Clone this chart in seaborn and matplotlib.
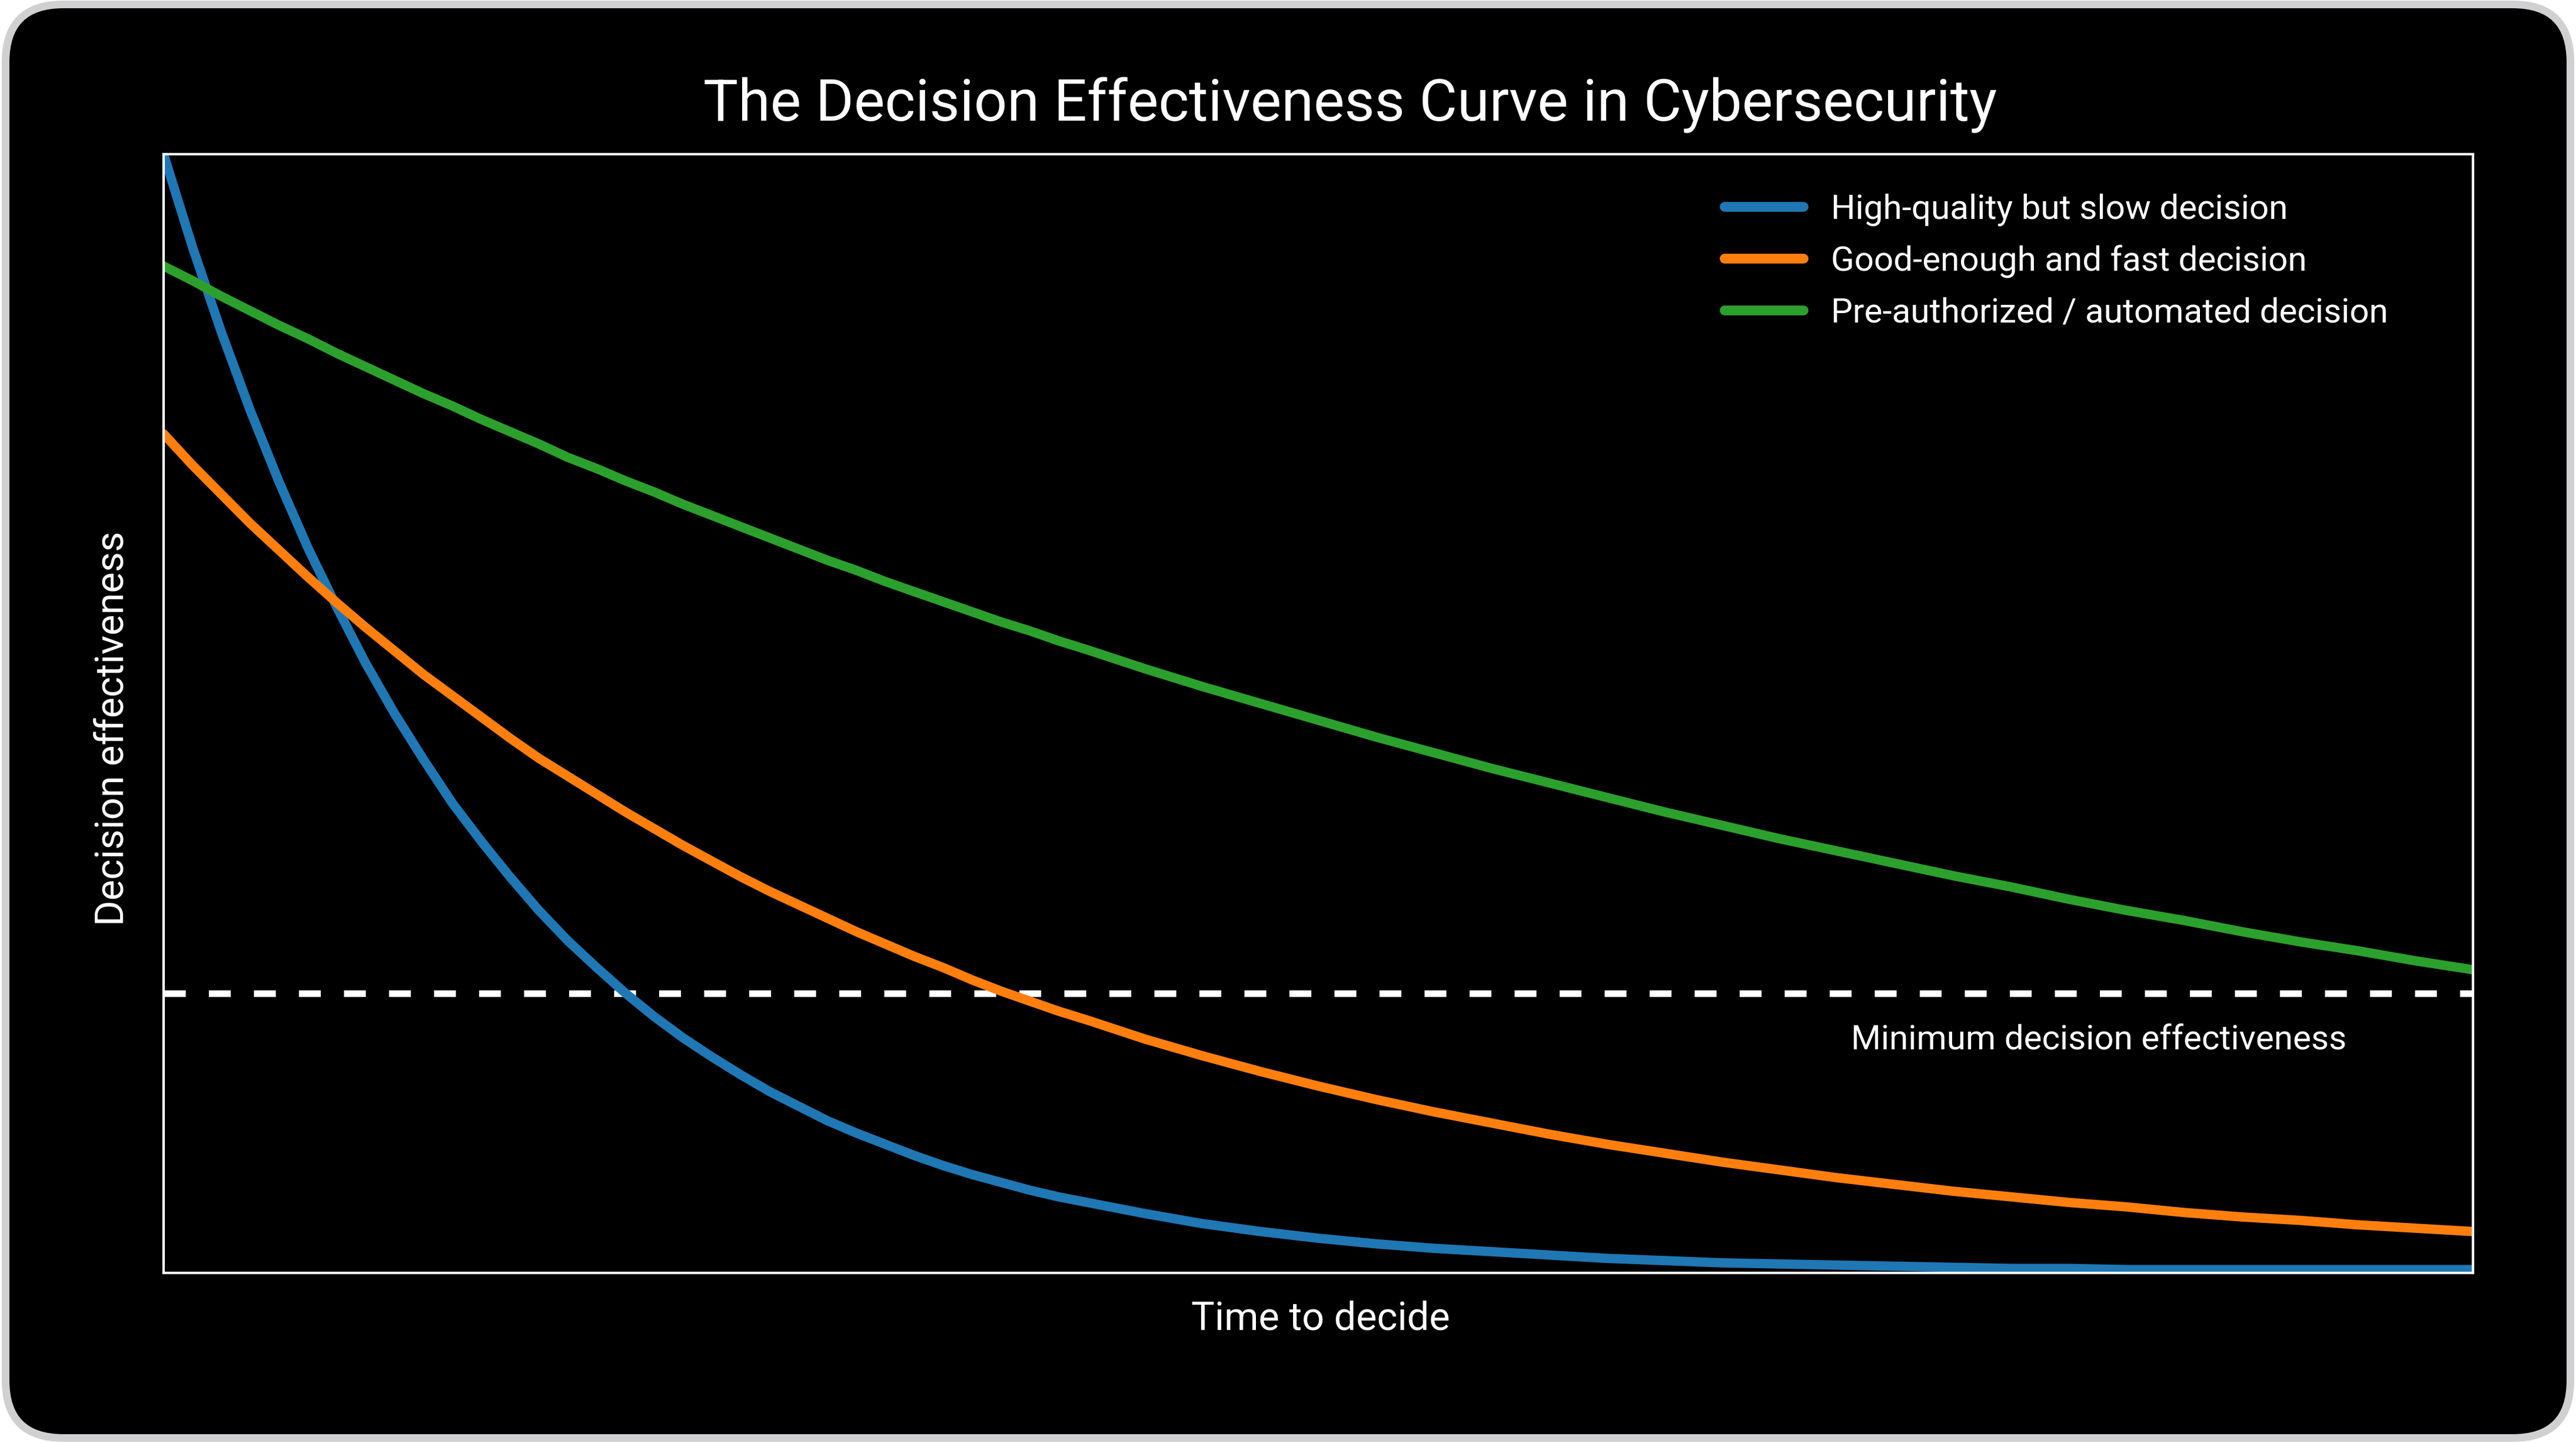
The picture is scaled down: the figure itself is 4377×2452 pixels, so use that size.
import pandas as pd
import seaborn as sns
import matplotlib.pyplot as plt
from matplotlib.patches import FancyBboxPatch
from matplotlib.transforms import IdentityTransform

# Values (time in arbitrary units 0-10, effectiveness 0-1)
# denser sampling where the curves bend the most
time_to_decide = [0.0, 0.125, 0.25, 0.375, 0.5, 0.625, 0.75, 0.875, 1.0, 1.125, 1.25, 1.375,
                  1.5, 1.625, 1.75, 1.875, 2.0, 2.125, 2.25, 2.375, 2.5, 2.625, 2.75, 2.875,
                  3.0, 3.125, 3.25, 3.375, 3.5, 3.625, 3.75, 3.875, 4.0,
                  4.25, 4.5, 4.75, 5.0, 5.25, 5.5, 5.75, 6.0, 6.25, 6.5, 6.75, 7.0, 7.25,
                  7.5, 7.75, 8.0, 8.25, 8.5, 8.75, 9.0, 9.25, 9.5, 9.75, 10.0]

slow_quality = [1.000, 0.917, 0.841, 0.771, 0.707, 0.648, 0.595, 0.545, 0.500, 0.459, 0.420,
                0.386, 0.354, 0.324, 0.297, 0.273, 0.250, 0.229, 0.210, 0.193, 0.177, 0.162,
                0.149, 0.136, 0.125, 0.115, 0.105, 0.096, 0.088, 0.081, 0.074, 0.068, 0.063,
                0.053, 0.044, 0.037, 0.031, 0.026, 0.022, 0.019, 0.016, 0.013, 0.011, 0.009,
                0.008, 0.007, 0.006, 0.005, 0.004, 0.004, 0.003, 0.003, 0.003, 0.003, 0.003,
                0.003, 0.003]

fast_good_enough = [0.750, 0.722, 0.696, 0.670, 0.646, 0.622, 0.599, 0.577, 0.556, 0.535, 0.516,
                    0.497, 0.478, 0.460, 0.444, 0.428, 0.412, 0.397, 0.382, 0.368, 0.354, 0.341,
                    0.329, 0.317, 0.305, 0.294, 0.283, 0.273, 0.262, 0.252, 0.243, 0.234, 0.226,
                    0.209, 0.194, 0.180, 0.167, 0.155, 0.144, 0.134, 0.124, 0.115, 0.107, 0.099,
                    0.092, 0.085, 0.079, 0.073, 0.068, 0.063, 0.059, 0.054, 0.050, 0.047, 0.043,
                    0.040, 0.037]

pre_authorized = [0.900, 0.887, 0.873, 0.860, 0.847, 0.835, 0.822, 0.810, 0.798, 0.786, 0.775,
                  0.763, 0.752, 0.741, 0.729, 0.719, 0.708, 0.698, 0.687, 0.677, 0.667, 0.657,
                  0.647, 0.637, 0.628, 0.618, 0.609, 0.600, 0.591, 0.582, 0.574, 0.565, 0.557,
                  0.540, 0.524, 0.509, 0.494, 0.479, 0.465, 0.451, 0.438, 0.425, 0.412, 0.400,
                  0.388, 0.377, 0.366, 0.355, 0.345, 0.334, 0.324, 0.315, 0.305, 0.296, 0.288,
                  0.279, 0.271]

series_names = ["High-quality but slow decision",
                "Good-enough and fast decision",
                "Pre-authorized / automated decision"]
series_colors = ["#1f77b4", "#ff7f0e", "#2ca02c"]

min_effectiveness = 0.25
min_label = "Minimum decision effectiveness"
min_label_x = 8.38
min_label_y = 0.20

title = "The Decision Effectiveness Curve in Cybersecurity"
x_label = "Time to decide"
y_label = "Decision effectiveness"

# long-format frame for seaborn
df = pd.concat([
    pd.DataFrame({"time": time_to_decide, "effectiveness": vals, "decision": name})
    for name, vals in zip(series_names, [slow_quality, fast_good_enough, pre_authorized])
], ignore_index=True)

W, H, DPI = 4377, 2452, 300
sns.set_theme(style="dark")
plt.rcParams['font.family'] = ['Roboto', 'DejaVu Sans']

fig = plt.figure(figsize=(W / DPI, H / DPI), dpi=DPI, facecolor="white")

# black rounded card with grey border behind everything
card = FancyBboxPatch((9.5, 8.5), W - 19, H - 16,
                      boxstyle="round,pad=0,rounding_size=98",
                      transform=IdentityTransform(),
                      facecolor="black", edgecolor="#d0cfd1",
                      linewidth=13 * 72 / DPI, zorder=-1)
fig.add_artist(card)

ax = fig.add_axes([278 / W, 1 - 2163 / H, (4202 - 278) / W, (2163 - 262) / H])
ax.set_facecolor("black")

sns.lineplot(data=df, x="time", y="effectiveness", hue="decision",
             hue_order=series_names, palette=series_colors,
             linewidth=3.8, errorbar=None, ax=ax)
for line in ax.get_lines():
    line.set_solid_joinstyle("round")

ax.axhline(min_effectiveness, color="white", linewidth=2.7, dashes=(3.3, 3.5), zorder=1.5)
ax.text(min_label_x, min_label_y, min_label, ha="center", va="baseline",
        color="white", fontsize=14)

ax.set_xlim(0, 10)
ax.set_ylim(0, 1)
ax.set_xticks([])
ax.set_yticks([])
for sp in ax.spines.values():
    sp.set_visible(True)
    sp.set_color("white")
    sp.set_linewidth(1.0)

ax.set_xlabel(x_label, fontsize=16, color="white", va="baseline")
ax.xaxis.set_label_coords(0.5009, -0.051)
ax.set_ylabel(y_label, fontsize=16, color="white", va="baseline")
ax.yaxis.set_label_coords(-0.0171, 0.4866)

handles, labels = ax.get_legend_handles_labels()
leg = ax.legend(handles, labels, loc="upper left",
                bbox_to_anchor=(2930 / W, 1 - 328 / H), bbox_transform=fig.transFigure,
                frameon=False, fontsize=14, handlelength=2.3, handletextpad=0.8,
                labelspacing=0.55, borderpad=0, borderaxespad=0, labelcolor="white")
for line in leg.get_lines():
    line.set_linewidth(4)

fig.text(2294 / W, 1 - 205 / H, title, ha="center", va="baseline",
         fontsize=23.8, color="white")

fig.savefig("out.png", dpi=DPI, facecolor="white")
